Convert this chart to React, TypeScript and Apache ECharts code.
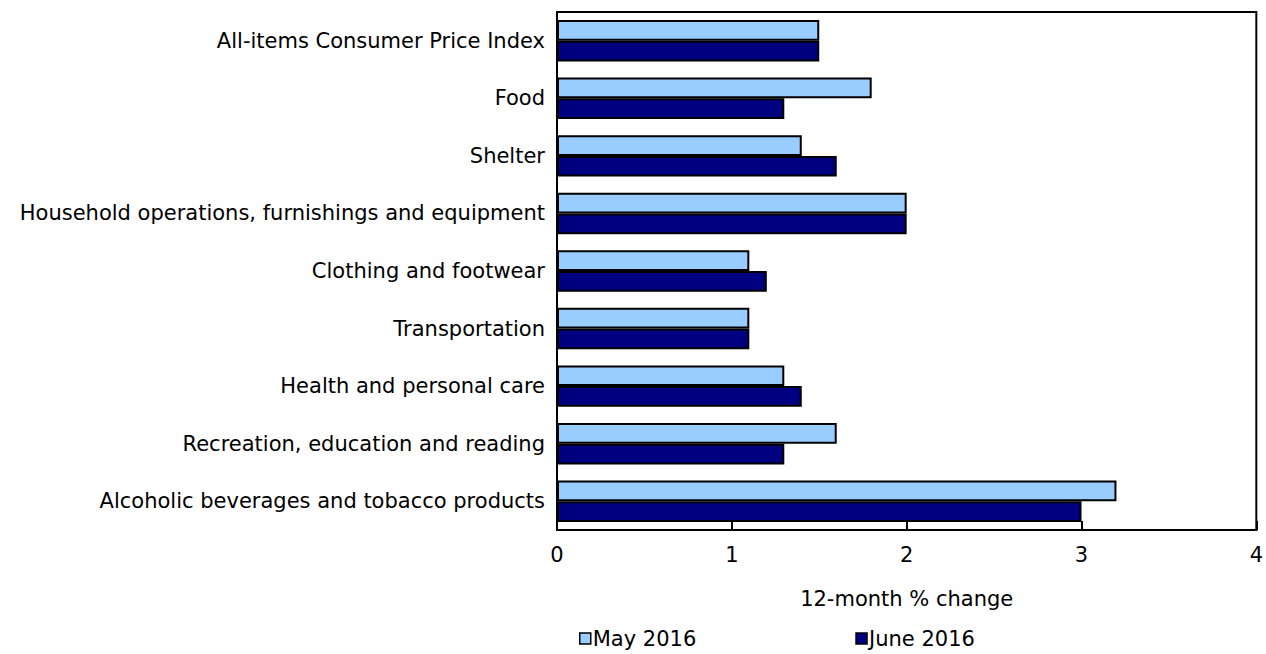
import React, { useEffect, useRef } from "react";
import * as echarts from "echarts";

const categories = [
  "All-items Consumer Price Index",
  "Food",
  "Shelter",
  "Household operations, furnishings and equipment",
  "Clothing and footwear",
  "Transportation",
  "Health and personal care",
  "Recreation, education and reading",
  "Alcoholic beverages and tobacco products",
];
const may2016 = [1.5, 1.8, 1.4, 2.0, 1.1, 1.1, 1.3, 1.6, 3.2];
const june2016 = [1.5, 1.3, 1.6, 2.0, 1.2, 1.1, 1.4, 1.3, 3.0];
const seriesNames = ["May 2016", "June 2016"];
const xTicks = [0, 1, 2, 3, 4];

const FONT = "DejaVu Sans";
const FS = 21;

export default function App() {
  const ref = useRef<HTMLDivElement>(null);
  useEffect(() => {
    if (!ref.current) return;
    const chart = echarts.init(ref.current, undefined, { renderer: "svg" });
    chart.setOption({
      animation: false,
      textStyle: { fontFamily: FONT, color: "#000" },
      grid: {
        left: 557,
        right: 8,
        top: 12,
        bottom: 124,
        show: true,
        borderColor: "#000",
        borderWidth: 2,
      },
      legend: {
        bottom: 0,
        left: 574,
        itemGap: 159,
        itemWidth: 11,
        itemHeight: 11,
        icon: "rect",
        textStyle: { fontFamily: FONT, fontSize: FS, color: "#000", padding: [0, 0, 0, -3] },
        itemStyle: { borderColor: "#000", borderWidth: 1.5 },
        data: seriesNames,
      },
      xAxis: {
        type: "value",
        min: xTicks[0],
        max: xTicks[xTicks.length - 1],
        interval: 1,
        name: "12-month % change",
        nameLocation: "middle",
        nameGap: 58,
        nameTextStyle: { fontFamily: FONT, fontSize: FS, color: "#000" },
        axisLine: { show: true, lineStyle: { color: "#000", width: 2 } },
        axisTick: { show: true, inside: true, length: 9, lineStyle: { color: "#000", width: 2 } },
        axisLabel: { fontFamily: FONT, fontSize: FS, color: "#000", margin: 14 },
        splitLine: { show: false },
      },
      yAxis: {
        type: "category",
        inverse: true,
        data: categories,
        axisLine: { show: true, lineStyle: { color: "#000", width: 2 } },
        axisTick: { show: false },
        axisLabel: { fontFamily: FONT, fontSize: FS, color: "#000", margin: 12 },
      },
      series: [
        {
          name: seriesNames[0],
          type: "bar",
          data: may2016,
          barGap: "0%",
          barCategoryGap: "28%",
          itemStyle: { color: "#99CCFF", borderColor: "#000", borderWidth: 2 },
        },
        {
          name: seriesNames[1],
          type: "bar",
          data: june2016,
          barGap: "0%",
          barCategoryGap: "28%",
          itemStyle: { color: "#000080", borderColor: "#000", borderWidth: 2 },
        },
      ],
    });
    return () => chart.dispose();
  }, []);
  return (
    <div
      ref={ref}
      style={{ position: "absolute", left: 0, top: 0, width: 1266, height: 654 }}
    />
  );
}
